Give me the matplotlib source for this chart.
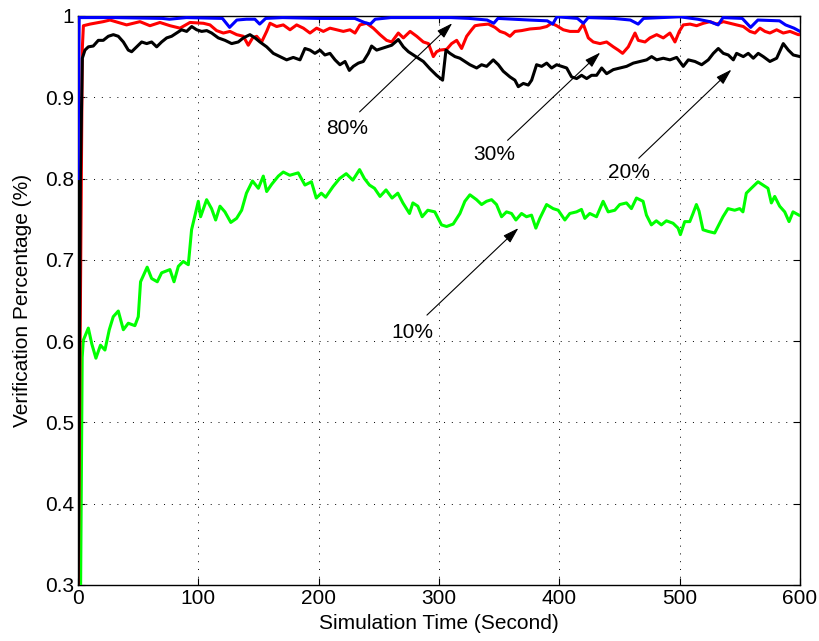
import matplotlib
matplotlib.use("Agg")
import matplotlib.pyplot as plt

plt.rcParams['font.family'] = ['Liberation Sans', 'DejaVu Sans']

# percentage of verifying nodes -> (time, verification percentage)
t_80 = [0, 1, 30, 70, 76, 90, 120, 126, 132, 140, 147, 151, 156, 170, 200, 230, 238,
        243, 247, 260, 290, 310, 325, 340, 345.5, 349, 375, 390, 394.5, 398, 415, 420,
        424, 445, 459, 465.5, 470, 500, 515, 525, 532, 536, 552, 559, 565, 583, 588,
        595, 600]
v_80 = [0.80, 0.998, 0.998, 0.997, 0.996, 0.998, 0.997, 0.986, 0.995, 0.996, 0.996,
        0.990, 0.997, 0.998, 0.997, 0.997, 0.992, 0.990, 0.996, 0.998, 0.998, 0.998,
        0.997, 0.995, 0.991, 0.997, 0.995, 0.994, 0.990, 0.999, 0.997, 0.991, 0.998,
        0.997, 0.995, 0.990, 0.997, 0.999, 0.996, 0.993, 0.989, 0.998, 0.997, 0.986,
        0.995, 0.994, 0.989, 0.985, 0.981]

t_30 = [0, 3.6, 4.5, 10.0, 21.0, 26.6, 33.5, 40.4, 51.5, 59.8, 68.1, 76.5, 84.8, 93.1,
        104.2, 109.7, 115.2, 120.8, 126.3, 131.9, 137.4, 141.5, 145.1, 148.5, 152.6,
        156.8, 159.6, 165.1, 170.6, 176.2, 181.7, 187.3, 192.8, 198.3, 203.9, 209.4,
        215.0, 220.5, 226.0, 230.2, 234.3, 239.9, 245.4, 251.0, 256.5, 260.7, 266.2,
        270.4, 276.0, 281.5, 287.0, 291.2, 295.3, 298.0, 300.8, 306.4, 310.5, 314.7,
        318.8, 323.0, 327.1, 329.9, 334.1, 341.0, 346.5, 350.7, 354.8, 359.0, 363.1,
        368.7, 375.6, 383.9, 389.5, 393.6, 397.8, 403.3, 408.8, 415.8, 419.9, 424.1,
        428.2, 433.8, 439.3, 444.9, 449.0, 452.6, 457.3, 462.9, 465.6, 471.2, 475.3,
        480.9, 486.4, 491.9, 496.1, 499.7, 503.0, 508.6, 514.1, 519.7, 525.2, 530.7,
        536.3, 541.8, 547.3, 552.9, 558.4, 562.6, 566.7, 570.9, 575.0, 580.6, 586.1,
        591.7, 598.6, 600]
v_30 = [0.25, 0.960, 0.988, 0.990, 0.993, 0.995, 0.992, 0.989, 0.993, 0.988, 0.992,
        0.988, 0.985, 0.992, 0.991, 0.989, 0.982, 0.979, 0.981, 0.977, 0.975, 0.964,
        0.973, 0.975, 0.968, 0.981, 0.991, 0.987, 0.989, 0.983, 0.989, 0.985, 0.979,
        0.985, 0.981, 0.985, 0.983, 0.981, 0.983, 0.979, 0.989, 0.991, 0.985, 0.977,
        0.970, 0.968, 0.979, 0.973, 0.981, 0.975, 0.968, 0.966, 0.950, 0.956, 0.958,
        0.959, 0.966, 0.970, 0.960, 0.975, 0.983, 0.988, 0.989, 0.990, 0.986, 0.981,
        0.979, 0.975, 0.981, 0.982, 0.984, 0.985, 0.987, 0.991, 0.988, 0.983, 0.981,
        0.981, 0.990, 0.973, 0.968, 0.966, 0.968, 0.962, 0.958, 0.954, 0.962, 0.979,
        0.970, 0.968, 0.973, 0.977, 0.973, 0.979, 0.968, 0.981, 0.989, 0.990, 0.988,
        0.991, 0.993, 0.990, 0.993, 0.991, 0.989, 0.987, 0.981, 0.979, 0.985, 0.981,
        0.979, 0.983, 0.979, 0.981, 0.977, 0.977]

t_20 = [0, 2, 3.6, 5.8, 8.6, 12.7, 16.9, 21.0, 25.2, 29.4, 33.5, 37.7, 41.8, 44.6, 48.8,
        52.9, 57.1, 61.2, 65.4, 69.5, 73.7, 77.8, 82.0, 86.1, 90.3, 94.5, 98.6, 102.8,
        107.0, 111.1, 116.6, 122.2, 127.7, 133.2, 137.4, 142.9, 147.1, 151.2, 156.8,
        162.3, 167.9, 173.4, 178.9, 184.5, 188.6, 192.8, 196.9, 201.1, 205.2, 209.4,
        213.6, 217.7, 221.9, 225.5, 228.8, 233.0, 237.1, 241.3, 244.0, 248.2, 252.3,
        256.5, 260.7, 266.2, 270.4, 274.6, 278.7, 282.8, 287.0, 292.5, 298.0, 303.0,
        305.8, 309.1, 313.3, 317.4, 321.6, 325.7, 331.3, 335.4, 339.6, 345.1, 349.3,
        353.4, 359.0, 363.1, 365.9, 370.1, 374.2, 377.0, 381.1, 385.3, 389.5, 393.6,
        397.8, 401.9, 406.1, 410.2, 414.4, 418.5, 422.7, 426.8, 431.0, 435.2, 439.3,
        444.9, 450.4, 455.9, 461.5, 467.0, 472.6, 476.7, 480.9, 486.4, 491.9, 497.5,
        503.0, 507.2, 512.7, 518.3, 523.8, 528.0, 532.1, 536.3, 540.4, 544.6, 547.3,
        552.9, 557.0, 561.2, 565.3, 569.5, 575.0, 580.6, 586.1, 590.3, 594.4, 600]
v_20 = [0.25, 0.80, 0.948, 0.958, 0.962, 0.963, 0.970, 0.970, 0.975, 0.977, 0.975,
        0.968, 0.958, 0.956, 0.962, 0.968, 0.966, 0.968, 0.962, 0.968, 0.973, 0.975,
        0.979, 0.983, 0.981, 0.987, 0.983, 0.981, 0.982, 0.979, 0.973, 0.970, 0.966,
        0.968, 0.973, 0.977, 0.973, 0.968, 0.962, 0.954, 0.950, 0.946, 0.949, 0.946,
        0.960, 0.958, 0.954, 0.958, 0.952, 0.954, 0.946, 0.940, 0.944, 0.933, 0.938,
        0.942, 0.944, 0.954, 0.963, 0.958, 0.960, 0.962, 0.964, 0.971, 0.962, 0.956,
        0.952, 0.948, 0.944, 0.935, 0.927, 0.921, 0.958, 0.954, 0.950, 0.948, 0.944,
        0.940, 0.936, 0.940, 0.938, 0.946, 0.940, 0.932, 0.925, 0.921, 0.913, 0.917,
        0.915, 0.921, 0.940, 0.938, 0.942, 0.936, 0.940, 0.938, 0.936, 0.925, 0.923,
        0.927, 0.923, 0.927, 0.927, 0.936, 0.929, 0.934, 0.936, 0.938, 0.942, 0.944,
        0.946, 0.950, 0.946, 0.948, 0.946, 0.949, 0.938, 0.946, 0.944, 0.940, 0.946,
        0.954, 0.960, 0.954, 0.952, 0.946, 0.954, 0.950, 0.954, 0.948, 0.954, 0.950,
        0.944, 0.948, 0.966, 0.958, 0.952, 0.950]

t_10 = [0, 2.2, 3.5, 4.4, 8.6, 11.4, 14.9, 18.7, 22.4, 26.0, 29.3, 33.5, 37.7, 41.8,
        47.3, 50.1, 52.0, 57.5, 61.2, 65.9, 69.5, 76.4, 79.8, 83.4, 87.5, 91.7, 94.4,
        100.0, 101.9, 106.9, 111.0, 114.4, 118.0, 122.1, 127.0, 131.8, 136.0, 140.0,
        145.0, 149.9, 154.0, 156.8, 161.0, 166.5, 170.6, 176.0, 183.0, 188.6, 194.0,
        198.0, 202.2, 205.8, 211.9, 217.4, 222.9, 228.4, 234.0, 238.0, 242.2, 246.4,
        251.0, 256.0, 261.0, 265.8, 270.0, 275.5, 278.3, 282.4, 286.0, 290.7, 296.5,
        302.1, 306.3, 311.8, 317.4, 321.5, 325.7, 331.2, 335.4, 339.5, 343.7, 347.8,
        352.0, 356.1, 360.3, 363.9, 368.6, 372.7, 376.9, 380.5, 383.8, 389.4, 394.9,
        399.1, 404.6, 408.7, 414.3, 418.4, 421.2, 425.3, 430.9, 436.4, 440.6, 446.1,
        450.2, 455.8, 459.9, 464.1, 469.6, 472.4, 476.5, 480.6, 484.8, 489.0, 494.5,
        498.7, 500.6, 504.2, 508.4, 511.1, 513.9, 516.1, 519.4, 523.6, 529.1, 531.9,
        536.0, 540.2, 545.7, 549.9, 552.6, 555.4, 559.5, 565.1, 569.3, 573.4, 576.2,
        579.0, 583.1, 587.3, 590.9, 594.2, 599.1]
v_10 = [0.0, 0.30, 0.58, 0.601, 0.616, 0.597, 0.579, 0.595, 0.589, 0.614, 0.630, 0.637,
        0.614, 0.622, 0.619, 0.630, 0.673, 0.691, 0.677, 0.673, 0.684, 0.688, 0.673,
        0.692, 0.698, 0.694, 0.737, 0.772, 0.753, 0.774, 0.763, 0.749, 0.766, 0.759,
        0.746, 0.751, 0.761, 0.782, 0.797, 0.788, 0.803, 0.784, 0.793, 0.803, 0.808,
        0.804, 0.807, 0.792, 0.796, 0.776, 0.782, 0.777, 0.790, 0.800, 0.806, 0.798,
        0.811, 0.800, 0.792, 0.788, 0.778, 0.786, 0.776, 0.782, 0.770, 0.757, 0.770,
        0.766, 0.753, 0.761, 0.759, 0.743, 0.741, 0.744, 0.757, 0.772, 0.780, 0.774,
        0.768, 0.772, 0.774, 0.768, 0.753, 0.759, 0.757, 0.749, 0.757, 0.753, 0.755,
        0.739, 0.751, 0.768, 0.763, 0.761, 0.749, 0.757, 0.759, 0.762, 0.751, 0.757,
        0.753, 0.772, 0.759, 0.761, 0.768, 0.770, 0.763, 0.776, 0.772, 0.755, 0.743,
        0.748, 0.743, 0.748, 0.745, 0.739, 0.731, 0.747, 0.747, 0.757, 0.768, 0.760,
        0.737, 0.735, 0.733, 0.741, 0.753, 0.763, 0.761, 0.763, 0.759, 0.782, 0.788,
        0.796, 0.792, 0.788, 0.770, 0.778, 0.766, 0.759, 0.747, 0.759, 0.755]

labels = ['80%', '30%', '20%', '10%']
# (text position, arrow tail, arrow head) in data units
label_pos = [(224, 0.862), (346, 0.829), (458, 0.807), (278, 0.611)]
arrow_tail = [(234, 0.882), (357, 0.847), (466, 0.825), (290, 0.632)]
arrow_head = [(311, 0.991), (434, 0.955), (543, 0.934), (366, 0.739)]

fig = plt.figure(figsize=(8.2, 6.41), dpi=100)
ax = fig.add_axes([0.0951, 0.0874, 0.8805, 0.8877])

lw = 2.2
ax.plot(t_10, v_10, color=(0, 1, 0), lw=lw, zorder=3)
ax.plot(t_30, v_30, color=(1, 0, 0), lw=lw, zorder=3)
ax.plot(t_20, v_20, color='black', lw=lw, zorder=3)
ax.plot(t_80, v_80, color=(0, 0, 1), lw=lw, zorder=3)

for lab, tp, tail, head in zip(labels, label_pos, arrow_tail, arrow_head):
    ax.annotate('', xy=head, xytext=tail,
                arrowprops=dict(arrowstyle='-|>,head_length=0.65,head_width=0.2',
                                color='black', lw=0.8, mutation_scale=15,
                                shrinkA=0, shrinkB=0), zorder=4)
    ax.text(tp[0], tp[1], lab, fontsize=15, ha='center', va='center')

ax.set_xlim(0, 600)
ax.set_ylim(0.3, 1.0)
ax.set_xticks(range(0, 601, 100))
ax.set_yticks([0.3, 0.4, 0.5, 0.6, 0.7, 0.8, 0.9, 1.0])
ax.set_yticklabels(['0.3', '0.4', '0.5', '0.6', '0.7', '0.8', '0.9', '1'])
ax.tick_params(direction='in', length=5, width=0.8, labelsize=15,
               top=True, right=True, pad=3)
ax.grid(True, color='black', linestyle=(0, (1, 7)), linewidth=0.7)
for s in ax.spines.values():
    s.set_linewidth(1.0)

ax.set_xlabel('Simulation Time (Second)', fontsize=15, labelpad=4)
ax.set_ylabel('Verification Percentage (%)', fontsize=15, labelpad=9)

fig.savefig('out.png', dpi=100)
